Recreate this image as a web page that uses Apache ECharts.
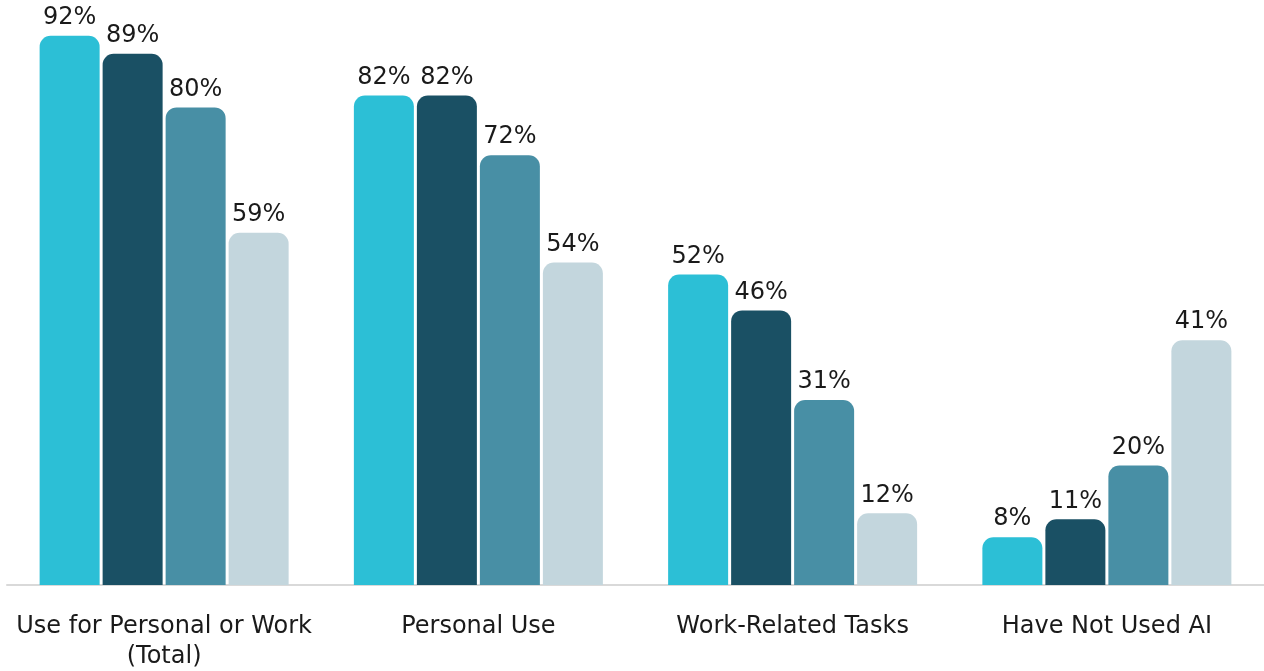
<!DOCTYPE html>
<html>
<head>
<meta charset="utf-8">
<script src="https://cdn.jsdelivr.net/npm/echarts@6/dist/echarts.min.js"></script>
<style>
  html, body { margin: 0; padding: 0; background: #ffffff; }
  #chart { width: 1264px; height: 671px; }
</style>
</head>
<body>
<div id="chart"></div>
<script>
// AI usage by category, four respondent groups
const categories = ['Use for Personal or Work\n(Total)', 'Personal Use', 'Work-Related Tasks', 'Have Not Used AI'];
const groupA = [92, 82, 52, 8];
const groupB = [89, 82, 46, 11];
const groupC = [80, 72, 31, 20];
const groupD = [59, 54, 12, 41];

const colors = ['#2cbfd6', '#1a5064', '#488fa5', '#c3d6dd'];
const FONT = 'DejaVu Sans';

function makeSeries(name, data, color) {
  return {
    name: name,
    type: 'bar',
    data: data,
    barWidth: 60,
    barGap: '5%',
    itemStyle: { color: color, borderRadius: [11, 11, 0, 0] },
    label: {
      show: true,
      position: 'top',
      distance: 6,
      formatter: '{c}%',
      color: '#1a1a1a',
      fontFamily: FONT,
      fontSize: 24
    }
  };
}

const chart = echarts.init(document.getElementById('chart'), null, { renderer: 'canvas' });
chart.setOption({
  animation: false,
  backgroundColor: '#ffffff',
  grid: { left: 7, right: 0, top: -12, bottom: 86, outerBoundsMode: 'none', containLabel: false },
  xAxis: {
    type: 'category',
    data: categories,
    axisLine: { lineStyle: { color: '#d9d9d9', width: 2 } },
    axisTick: { show: false },
    axisLabel: {
      interval: 0,
      color: '#1a1a1a',
      fontFamily: FONT,
      fontSize: 24,
      lineHeight: 30,
      margin: 27
    }
  },
  yAxis: {
    type: 'value',
    min: 0,
    max: 100,
    show: false
  },
  series: [
    makeSeries('A', groupA, colors[0]),
    makeSeries('B', groupB, colors[1]),
    makeSeries('C', groupC, colors[2]),
    makeSeries('D', groupD, colors[3])
  ]
});
</script>
</body>
</html>
